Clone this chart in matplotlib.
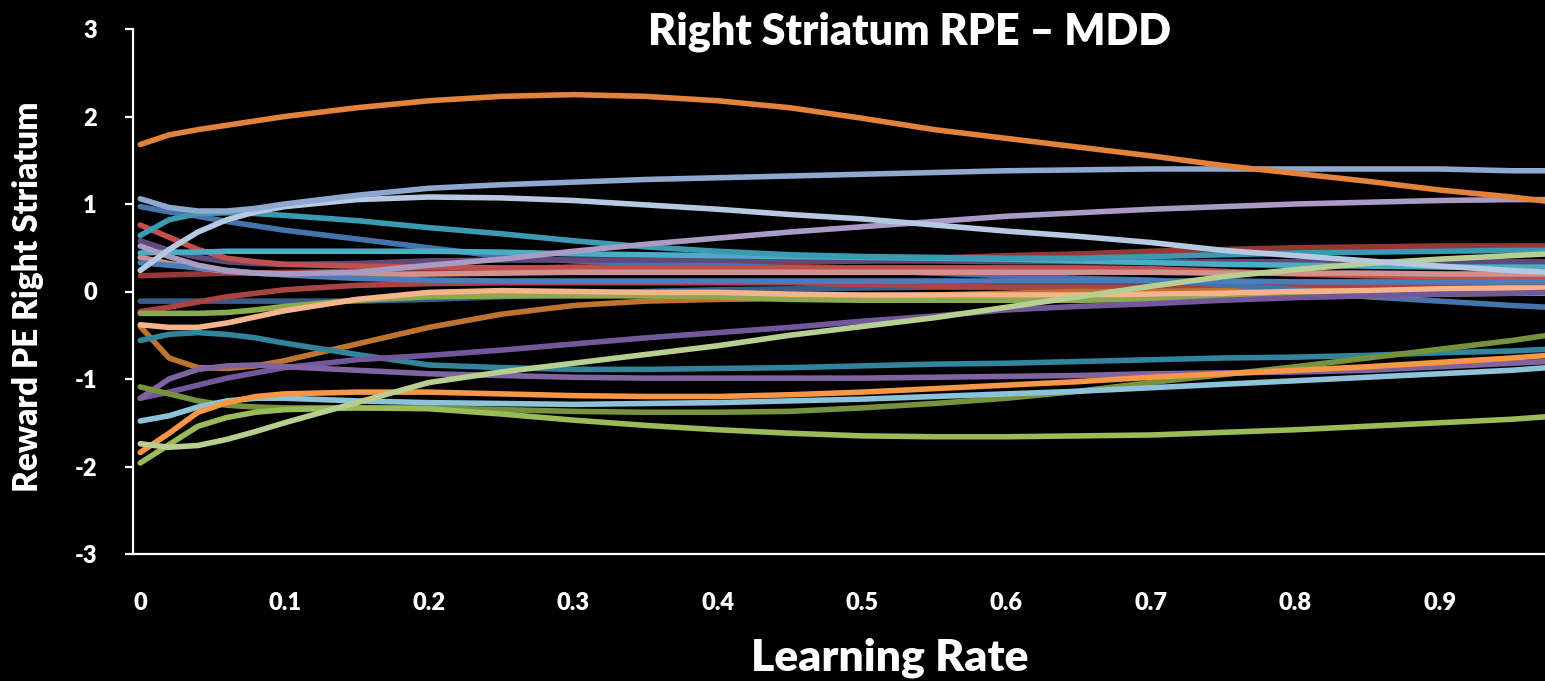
import matplotlib
matplotlib.use("Agg")
import matplotlib.pyplot as plt

# Learning-rate grid shared by every subject curve
learning_rate = [0.0, 0.02, 0.04, 0.06, 0.08, 0.1, 0.15, 0.2, 0.25, 0.3, 0.35, 0.4,
                 0.45, 0.5, 0.55, 0.6, 0.65, 0.7, 0.75, 0.8, 0.85, 0.9, 0.95, 0.975]

# Reward prediction-error estimates (right striatum), one curve per subject
s_orange_top = [1.68, 1.79, 1.85, 1.90, 1.95, 2.00, 2.10, 2.18, 2.23, 2.25, 2.23, 2.18,
                2.10, 1.98, 1.85, 1.75, 1.65, 1.55, 1.44, 1.35, 1.26, 1.16, 1.08, 1.03]
s_steel = [1.06, 0.96, 0.92, 0.92, 0.95, 1.00, 1.10, 1.18, 1.22, 1.25, 1.28, 1.30,
           1.32, 1.34, 1.36, 1.38, 1.39, 1.40, 1.40, 1.40, 1.40, 1.40, 1.38, 1.38]
s_ice = [0.24, 0.48, 0.68, 0.82, 0.91, 0.97, 1.05, 1.08, 1.07, 1.04, 0.99, 0.94,
         0.88, 0.83, 0.76, 0.69, 0.63, 0.56, 0.47, 0.41, 0.35, 0.29, 0.24, 0.22]
s_teal = [0.64, 0.82, 0.89, 0.90, 0.89, 0.87, 0.81, 0.73, 0.66, 0.58, 0.51, 0.46,
          0.42, 0.40, 0.39, 0.38, 0.38, 0.40, 0.42, 0.44, 0.45, 0.46, 0.47, 0.47]
s_blue_desc = [0.97, 0.91, 0.86, 0.80, 0.75, 0.70, 0.60, 0.50, 0.40, 0.35, 0.32, 0.30,
               0.27, 0.24, 0.21, 0.18, 0.15, 0.13, 0.08, 0.02, -0.06, -0.11, -0.16, -0.18]
s_red = [0.76, 0.62, 0.48, 0.38, 0.34, 0.31, 0.29, 0.28, 0.27, 0.27, 0.27, 0.27,
         0.27, 0.27, 0.27, 0.27, 0.27, 0.26, 0.23, 0.20, 0.18, 0.17, 0.16, 0.15]
s_navy_purple = [0.58, 0.47, 0.39, 0.34, 0.32, 0.31, 0.32, 0.35, 0.36, 0.36, 0.36, 0.36,
                 0.36, 0.35, 0.35, 0.34, 0.34, 0.34, 0.34, 0.34, 0.34, 0.34, 0.34, 0.34]
s_lilac = [0.52, 0.40, 0.30, 0.24, 0.21, 0.20, 0.22, 0.30, 0.37, 0.46, 0.54, 0.61,
           0.68, 0.74, 0.80, 0.86, 0.90, 0.94, 0.97, 1.00, 1.02, 1.04, 1.05, 1.05]
s_cyan = [0.44, 0.45, 0.45, 0.46, 0.46, 0.46, 0.46, 0.46, 0.45, 0.43, 0.42, 0.41,
          0.40, 0.39, 0.38, 0.37, 0.35, 0.33, 0.31, 0.30, 0.29, 0.28, 0.28, 0.28]
s_pink = [0.39, 0.32, 0.27, 0.23, 0.21, 0.20, 0.19, 0.20, 0.21, 0.22, 0.22, 0.22,
          0.22, 0.22, 0.22, 0.22, 0.22, 0.22, 0.21, 0.21, 0.21, 0.20, 0.20, 0.20]
s_blue = [0.33, 0.30, 0.27, 0.24, 0.21, 0.19, 0.15, 0.13, 0.12, 0.12, 0.12, 0.12,
          0.12, 0.12, 0.12, 0.12, 0.12, 0.12, 0.12, 0.11, 0.11, 0.11, 0.11, 0.11]
s_dark_red = [0.18, 0.19, 0.20, 0.21, 0.21, 0.22, 0.23, 0.25, 0.26, 0.28, 0.29, 0.31,
              0.33, 0.35, 0.38, 0.41, 0.43, 0.46, 0.48, 0.50, 0.51, 0.52, 0.52, 0.52]
s_navy = [-0.11, -0.11, -0.11, -0.11, -0.11, -0.11, -0.11, -0.09, -0.06, -0.03, 0.00, 0.02,
          0.03, 0.04, 0.05, 0.05, 0.05, 0.05, 0.05, 0.05, 0.05, 0.05, 0.05, 0.05]
s_red_low = [-0.23, -0.18, -0.12, -0.06, -0.02, 0.02, 0.07, 0.09, 0.10, 0.10, 0.10, 0.10,
             0.10, 0.08, 0.06, 0.05, 0.05, 0.05, 0.05, 0.05, 0.06, 0.07, 0.07, 0.07]
s_green = [-0.25, -0.25, -0.25, -0.24, -0.21, -0.17, -0.10, -0.06, -0.05, -0.05, -0.05, -0.06,
           -0.09, -0.10, -0.10, -0.10, -0.10, -0.09, -0.08, -0.06, -0.05, -0.03, -0.02, -0.02]
s_peach = [-0.38, -0.41, -0.41, -0.36, -0.29, -0.22, -0.09, -0.01, 0.01, 0.00, -0.01, -0.01,
           -0.03, -0.04, -0.04, -0.04, -0.04, -0.03, -0.02, 0.00, 0.01, 0.03, 0.04, 0.04]
s_brown = [-0.40, -0.76, -0.87, -0.88, -0.85, -0.79, -0.60, -0.41, -0.26, -0.16, -0.11, -0.09,
           -0.08, -0.06, -0.04, -0.02, 0.00, 0.00, 0.01, 0.01, 0.01, 0.01, 0.01, 0.01]
s_dark_teal = [-0.56, -0.49, -0.47, -0.49, -0.53, -0.59, -0.72, -0.84, -0.87, -0.89, -0.89, -0.88,
               -0.87, -0.85, -0.83, -0.82, -0.80, -0.78, -0.76, -0.75, -0.73, -0.70, -0.68, -0.66]
s_purple_a = [-1.22, -1.00, -0.89, -0.85, -0.84, -0.86, -0.90, -0.94, -0.96, -0.98, -0.99, -0.99,
              -0.99, -0.99, -0.98, -0.97, -0.96, -0.94, -0.93, -0.92, -0.90, -0.86, -0.82, -0.80]
s_purple_b = [-1.22, -1.15, -1.07, -0.99, -0.93, -0.87, -0.78, -0.73, -0.67, -0.60, -0.53, -0.47,
              -0.41, -0.34, -0.28, -0.21, -0.17, -0.14, -0.10, -0.07, -0.05, -0.03, -0.02, -0.01]
s_olive = [-1.09, -1.17, -1.25, -1.30, -1.32, -1.33, -1.33, -1.33, -1.35, -1.37, -1.38, -1.38,
           -1.37, -1.33, -1.28, -1.22, -1.14, -1.04, -0.95, -0.86, -0.76, -0.66, -0.56, -0.50]
s_sky = [-1.48, -1.42, -1.32, -1.25, -1.22, -1.22, -1.25, -1.27, -1.28, -1.29, -1.28, -1.27,
         -1.25, -1.23, -1.20, -1.17, -1.14, -1.10, -1.06, -1.02, -0.98, -0.94, -0.90, -0.87]
s_orange = [-1.84, -1.62, -1.38, -1.27, -1.20, -1.17, -1.15, -1.15, -1.17, -1.19, -1.20, -1.20,
            -1.18, -1.15, -1.11, -1.07, -1.03, -0.98, -0.94, -0.90, -0.86, -0.81, -0.76, -0.73]
s_green_low = [-1.96, -1.75, -1.54, -1.44, -1.38, -1.35, -1.33, -1.34, -1.40, -1.47, -1.53, -1.58,
               -1.62, -1.65, -1.66, -1.66, -1.65, -1.64, -1.61, -1.58, -1.54, -1.50, -1.46, -1.43]
s_pale_green = [-1.74, -1.78, -1.76, -1.69, -1.60, -1.50, -1.27, -1.04, -0.92, -0.82, -0.72, -0.62,
                -0.50, -0.40, -0.30, -0.18, -0.06, 0.06, 0.17, 0.25, 0.32, 0.37, 0.41, 0.43]

series = [
    (s_navy, "#385D8A"),
    (s_dark_red, "#953735"),
    (s_red_low, "#A94442"),
    (s_brown, "#C0722F"),
    (s_blue_desc, "#4573AC"),
    (s_navy_purple, "#60497A"),
    (s_red, "#C0504D"),
    (s_pink, "#D4908E"),
    (s_blue, "#4A7EBB"),
    (s_green, "#8BAA4F"),
    (s_peach, "#F6B48A"),
    (s_cyan, "#4BACC6"),
    (s_teal, "#3B9AB2"),
    (s_lilac, "#A99BC4"),
    (s_dark_teal, "#31849B"),
    (s_purple_b, "#72589A"),
    (s_purple_a, "#8064A2"),
    (s_olive, "#76923C"),
    (s_sky, "#8DC3D9"),
    (s_orange, "#F79646"),
    (s_green_low, "#9BBB59"),
    (s_pale_green, "#B8CF92"),
    (s_ice, "#B7C8E3"),
    (s_steel, "#8EA8D0"),
    (s_orange_top, "#E3823A"),
]

y_ticks = [-3, -2, -1, 0, 1, 2, 3]
x_ticks = [0, 0.1, 0.2, 0.3, 0.4, 0.5, 0.6, 0.7, 0.8, 0.9]
x_tick_labels = ["0", "0.1", "0.2", "0.3", "0.4", "0.5", "0.6", "0.7", "0.8", "0.9"]

plt.rcParams["font.family"] = ["Lato", "DejaVu Sans"]
WEIGHT = "heavy"

W, H = 1545, 681
fig = plt.figure(figsize=(W / 100, H / 100), dpi=100, facecolor="black")
ax = fig.add_axes([133 / W, 1 - 554 / H, (W - 133) / W, (554 - 29) / H], facecolor="black")

for values, color in series:
    ax.plot(learning_rate, values, color=color, lw=4.0, solid_capstyle="round",
            solid_joinstyle="round")

ax.set_xlim(-0.005, 0.973)
ax.set_ylim(-3, 3)
ax.set_yticks(y_ticks)
ax.set_yticklabels([str(v) for v in y_ticks])
ax.set_xticks(x_ticks)
ax.set_xticklabels(x_tick_labels)

for side in ("top", "right"):
    ax.spines[side].set_visible(False)
for side in ("left", "bottom"):
    ax.spines[side].set_color("white")
    ax.spines[side].set_linewidth(1.6)

ax.tick_params(axis="y", colors="white", direction="out", length=6, width=1.6,
               pad=20, labelsize=17)
ax.tick_params(axis="x", colors="white", length=0, pad=27, labelsize=17)
for lab in ax.get_xticklabels() + ax.get_yticklabels():
    lab.set_fontweight(WEIGHT)

fig.text(910 / W, 1 - 32 / H, "Right Striatum RPE \u2013 MDD", color="white",
         fontsize=31, fontweight=WEIGHT, ha="center", va="center")
fig.text(890 / W, 1 - 658 / H, "Learning Rate", color="white",
         fontsize=32, fontweight=WEIGHT, ha="center", va="center")
fig.text(28 / W, 1 - 297 / H, "Reward PE Right Striatum", color="white",
         fontsize=24, fontweight=WEIGHT, ha="center", va="center", rotation=90)

fig.savefig("out.png", dpi=100, facecolor="black")
